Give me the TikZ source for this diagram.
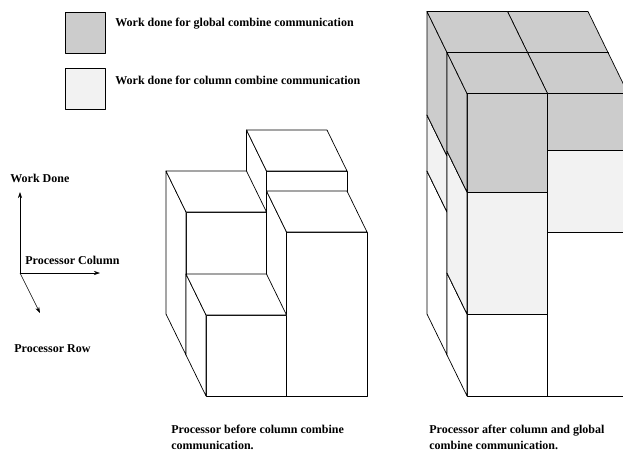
\documentclass[tikz,border=0pt]{standalone}
\usepackage{fontspec}
\setmainfont{Liberation Serif}
\usepackage{tikz}
\usetikzlibrary{arrows.meta,positioning}
\definecolor{globalgray}{gray}{.8}
\definecolor{columngray}{gray}{.95}
% one block of a processor column: column, row, bottom, top, fill
\def\Block#1#2#3#4#5{%
	\begin{scope}[shift={(#1*80.5+#2*20,-#2*41)}]
		\filldraw[fill=#5] (20,-41+#3) rectangle (100.5,-41+#4);
		\filldraw[fill=#5] (0,#3) -- (20,-41+#3) -- (20,-41+#4) -- (0,#4) -- cycle;
		\filldraw[fill=#5] (0,#4) -- (80.5,#4) -- (100.5,-41+#4) -- (20,-41+#4) -- cycle;
	\end{scope}}

\begin{document}
\begin{tikzpicture}[x=1pt,y=1pt,line width=.7pt,line join=round,
				every node/.style={
					font=\fontsize{12}{16}\selectfont\bfseries,
					inner sep=0pt
				},
				legendbox/.style={draw,minimum width=40pt,minimum height=41pt},
				axis/.style={-{Stealth[length=6pt,width=4pt]},line width=.6pt}
			]
			\clip (0,0) rectangle (623,451);
			% legend
			\node[legendbox,fill=globalgray](G)at(85,418.5){};
			\node[legendbox,fill=columngray](C)at(85,362.5){};
			\node[anchor=base west](Gt)at(115,424){Work done for global combine communication};
			\node[anchor=base west](Ct)at(115,367){Work done for column combine communication};
			% axes
			\coordinate (O) at (20,178);
			\coordinate (Up) at (20,259);
			\coordinate (Rt) at (100,178);
			\coordinate (Dn) at (40,138);
			\draw[axis] (O) -- (Up);
			\draw[axis] (O) -- (Rt);
			\draw[axis] (O) -- (Dn);
			\node[anchor=base west](WD)at(10,269){Work Done};
			\node[anchor=base west](PC)at(25,187){Processor Column};
			\node[anchor=base west](PR)at(14,99){Processor Row};
			% before column combine
			\begin{scope}[shift={(166,137)}]
				\Block{1}{0}{0}{184}{white}
				\Block{0}{0}{0}{143}{white}
				\Block{1}{1}{0}{164}{white}
				\Block{0}{1}{0}{81}{white}
			\end{scope}
			% after column and global combine
			\begin{scope}[shift={(427,137)}]
				\Block{1}{0}{0}{184}{white}
				\Block{1}{0}{184}{247}{columngray}
				\Block{1}{0}{247}{302.5}{globalgray}
				\Block{0}{0}{0}{143}{white}
				\Block{0}{0}{143}{199}{columngray}
				\Block{0}{0}{199}{302.5}{globalgray}
				\Block{1}{1}{0}{164}{white}
				\Block{1}{1}{164}{246}{columngray}
				\Block{1}{1}{246}{302.5}{globalgray}
				\Block{0}{1}{0}{82}{white}
				\Block{0}{1}{82}{204}{columngray}
				\Block{0}{1}{204}{302.5}{globalgray}
			\end{scope}
			\node[anchor=north west,align=left](L1)at(171,26.5){Processor before column combine\\communication.};
			\node[anchor=north west,align=left](L2)at(429,26.5){Processor after column and global\\combine communication.};
		\end{tikzpicture}
\end{document}
